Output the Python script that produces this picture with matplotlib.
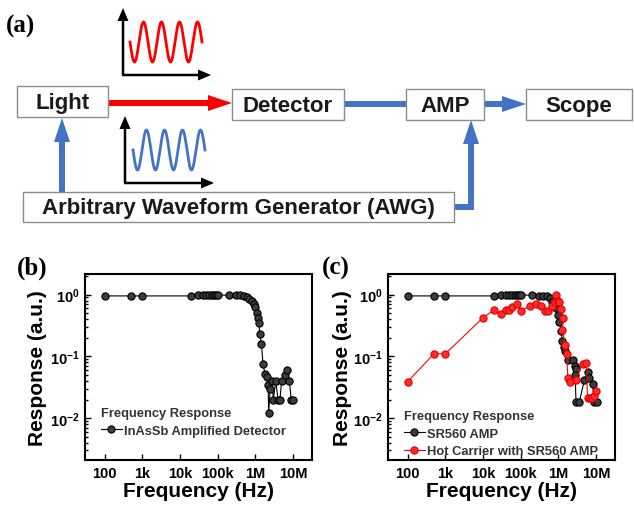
import matplotlib
matplotlib.use("Agg")
import matplotlib.pyplot as plt
import numpy as np
from matplotlib.patches import Rectangle, FancyArrow
from matplotlib.ticker import FixedLocator, FixedFormatter, LogLocator, NullFormatter

plt.rcParams['font.family'] = ['Liberation Sans', 'DejaVu Sans']
plt.rcParams['font.weight'] = 'bold'
plt.rcParams['mathtext.fontset'] = 'custom'
plt.rcParams['mathtext.rm'] = 'Liberation Sans:bold'
plt.rcParams['mathtext.bf'] = 'Liberation Sans:bold'

# ---- data ----
b_freq = [100, 500, 1e3, 2e4, 3e4, 4e4, 5e4, 6e4, 7e4, 8e4, 9e4, 1e5, 2e5, 3e5, 4e5,
          5e5, 6e5, 7e5, 8e5, 9e5, 1e6, 1.1e6, 1.2e6, 1.25e6, 1.3e6, 1.45e6, 1.6e6,
          1.8e6, 2.0e6, 2.2e6, 2.25e6, 2.5e6, 2.8e6, 3.0e6, 3.5e6, 4e6, 4.5e6, 5e6,
          6e6, 7e6, 8e6, 9e6, 1e7]
b_resp = [0.95, 0.95, 0.95, 0.95, 0.97, 0.98, 0.99, 0.99, 1.0, 1.0, 1.0, 0.99, 0.97, 0.99, 0.98,
          0.95, 0.90, 0.85, 0.78, 0.71, 0.62, 0.50, 0.42, 0.35, 0.23, 0.16, 0.076,
          0.052, 0.047, 0.034, 0.012, 0.03, 0.04, 0.02, 0.04, 0.02, 0.02, 0.04,
          0.05, 0.06, 0.04, 0.02, 0.02]

c_freq_k = [100, 500, 1e3, 2e4, 3e4, 4e4, 5e4, 6e4, 7e4, 8e4, 9e4, 1e5, 2e5, 3e5, 4e5,
            5e5, 6e5, 7e5, 8.5e5, 1e6, 1.07e6, 1.2e6, 1.26e6, 1.38e6, 1.55e6, 1.78e6,
            2.4e6, 2.7e6, 2.9e6, 2.8e6, 2.95e6, 3.6e6, 4.9e6, 6e6, 6.6e6, 8.1e6, 9.1e6, 1.05e7]
c_resp_k = [0.95, 0.95, 0.95, 0.95, 0.98, 0.99, 1.0, 1.0, 1.0, 1.0, 1.0, 0.99, 0.97, 0.96, 0.95,
            0.93, 0.88, 0.75, 0.6, 0.46, 0.36, 0.26, 0.18, 0.14, 0.12, 0.086,
            0.086, 0.07, 0.063, 0.05, 0.018, 0.018, 0.041, 0.056, 0.044, 0.036, 0.018, 0.018]

c_freq_r = [100, 500, 1e3, 1e4, 2e4, 3e4, 4e4, 5e4, 6e4, 8e4, 1e5, 1.8e5, 2.6e5, 3.5e5,
            4.4e5, 5.3e5, 6.6e5, 8e5, 8.9e5, 9.8e5, 1.05e6, 1.2e6, 1.32e6, 1.27e6, 1.55e6,
            1.65e6, 1.8e6, 2e6, 2.9e6, 4.4e6, 5.5e6, 6e6, 7e6, 8e6, 9e6, 1e7]
c_resp_r = [0.039, 0.11, 0.11, 0.42, 0.57, 0.48, 0.57, 0.57, 0.63, 0.71, 0.54, 0.66, 0.71, 0.66,
            0.55, 0.55, 0.66, 0.75, 1.0, 0.8, 0.75, 0.58, 0.41, 0.27, 0.15,
            0.11, 0.044, 0.039, 0.042, 0.076, 0.078, 0.021, 0.021, 0.021, 0.023, 0.027]

x_ticks = [100, 1e3, 1e4, 1e5, 1e6, 1e7]
x_labels = ['100', '1k', '10k', '100k', '1M', '10M']
y_ticks = [1e-2, 1e-1, 1]
y_labels = [r'$\mathbf{10^{-2}}$', r'$\mathbf{10^{-1}}$', r'$\mathbf{10^{0}}$']

W, H = 634, 510
fig = plt.figure(figsize=(W / 100, H / 100), dpi=100)

# ---- panel (a): block diagram in pixel coordinates ----
ax0 = fig.add_axes([0, 0, 1, 1])
ax0.set_xlim(0, W)
ax0.set_ylim(H, 0)
ax0.axis('off')

blue = '#4472C4'
red = '#FF0000'
box_style = dict(facecolor='white', edgecolor='#8c8c8c', lw=1.0, zorder=3)
boxes = [('Light', 17, 87, 91, 31), ('Detector', 232, 90, 112, 31),
         ('AMP', 406, 90, 78, 31), ('Scope', 526, 90, 106, 31),
         ('Arbitrary Waveform Generator (AWG)', 23, 193, 431, 30)]
for name, x, y, w, h in boxes:
    ax0.add_patch(Rectangle((x, y), w, h, **box_style))
    ax0.text(x + w / 2, y + h / 2 + 1, name, ha='center', va='center',
             fontsize=16, fontweight='bold', color='#1a1a1a', zorder=4)

# red arrow Light -> Detector
ax0.add_patch(FancyArrow(108, 104, 124, 0, width=6, head_width=16, head_length=24,
                         length_includes_head=True, color=red, lw=0, zorder=2))
# blue line Detector -> AMP
ax0.plot([344, 406], [105, 105], color=blue, lw=4.3, solid_capstyle='butt', zorder=2)
# blue arrow AMP -> Scope
ax0.add_patch(FancyArrow(484, 105, 42, 0, width=6, head_width=16, head_length=24,
                         length_includes_head=True, color=blue, lw=0, zorder=2))
# blue arrow AWG -> Light
ax0.add_patch(FancyArrow(62, 193, 0, -74, width=6, head_width=16, head_length=24,
                         length_includes_head=True, color=blue, lw=0, zorder=2))
# blue elbow AWG -> AMP
ax0.plot([454, 471, 471], [208, 208, 140], color=blue, lw=4.3,
         solid_capstyle='butt', solid_joinstyle='miter', zorder=2)
ax0.add_patch(FancyArrow(471, 145, 0, -24, width=6, head_width=16, head_length=24,
                         length_includes_head=True, color=blue, lw=0, zorder=2))


def sine_inset(x0, y0, x1, ytop, sx0, sx1, yc, amp, col):
    ax0.add_patch(FancyArrow(x0, y0, 0, ytop - y0, width=2.5, head_width=11, head_length=13,
                             length_includes_head=True, color='black', lw=0, zorder=2))
    ax0.add_patch(FancyArrow(x0 - 1, y0, x1 - x0 + 1, 0, width=2.5, head_width=11, head_length=13,
                             length_includes_head=True, color='black', lw=0, zorder=2))
    s = np.linspace(0, 1, 400)
    ax0.plot(sx0 + (sx1 - sx0) * s, yc + amp * np.sin(2 * np.pi * 4 * s), color=col, lw=2.0)


sine_inset(123, 76, 211, 9, 130, 202, 43, 20, red)
sine_inset(125, 184, 214, 117, 133, 205, 151, 20, '#4472C4')

ax0.text(6, 26, '(a)', fontsize=18, fontweight='bold', family='Liberation Serif',
         ha='left', va='center')
ax0.text(17, 268, '(b)', fontsize=18, fontweight='bold', family='Liberation Serif',
         ha='left', va='center')
ax0.text(322, 268, '(c)', fontsize=18, fontweight='bold', family='Liberation Serif',
         ha='left', va='center')


# ---- panels (b), (c) ----
def setup(ax, ylab_x):
    ax.set_xscale('log')
    ax.set_yscale('log')
    ax.set_xlim(30, 3.2e7)
    ax.set_ylim(0.0021, 2.15)
    ax.xaxis.set_major_locator(FixedLocator(x_ticks))
    ax.xaxis.set_major_formatter(FixedFormatter(x_labels))
    ax.yaxis.set_major_locator(FixedLocator(y_ticks))
    ax.yaxis.set_major_formatter(FixedFormatter(y_labels))
    ax.xaxis.set_minor_locator(LogLocator(base=10, subs=np.arange(2, 10)))
    ax.yaxis.set_minor_locator(LogLocator(base=10, subs=np.arange(2, 10)))
    ax.xaxis.set_minor_formatter(NullFormatter())
    ax.yaxis.set_minor_formatter(NullFormatter())
    ax.tick_params(which='both', direction='in', top=False, right=False, width=1.0)
    ax.tick_params(which='major', length=4, labelsize=10.5, pad=4)
    ax.tick_params(which='minor', length=2)
    for sp in ax.spines.values():
        sp.set_linewidth(1.5)
    ax.set_xlabel('Frequency (Hz)', fontsize=15, fontweight='bold')
    ax.set_ylabel('Response (a.u.)', fontsize=15, fontweight='bold')
    ax.xaxis.set_label_coords(0.5, -0.112)
    ax.yaxis.set_label_coords(ylab_x, 0.5)


def legend(ax, y):
    leg = ax.legend(loc='lower left', bbox_to_anchor=(0.07, y), frameon=False,
                    title='Frequency Response', alignment='left', fontsize=9.3,
                    title_fontproperties={'size': 9.3, 'weight': 'bold'},
                    handlelength=1.6, handletextpad=0.2, borderpad=0, borderaxespad=0,
                    labelspacing=0.42)
    for t in leg.get_texts():
        t.set_color('#333333')
    leg.get_title().set_color('#333333')


mk = dict(marker='o', markersize=5.2, markeredgewidth=0.8, lw=0.8)

axb = fig.add_axes([85 / W, (H - 461) / H, 227 / W, 186 / H])
setup(axb, -0.167)
axb.plot(b_freq, b_resp, color='black', markerfacecolor='#3c3c3c', markeredgecolor='black',
         label='InAsSb Amplified Detector', **mk)
legend(axb, 0.125)

axc = fig.add_axes([388 / W, (H - 461) / H, 227 / W, 186 / H])
setup(axc, -0.159)
axc.plot(c_freq_k, c_resp_k, color='black', markerfacecolor='#3c3c3c', markeredgecolor='black',
         label='SR560 AMP', **mk)
axc.plot(c_freq_r, c_resp_r, color=red, markerfacecolor='#ff2a2a', markeredgecolor='#e00000',
         label='Hot Carrier with SR560 AMP', **mk)
legend(axc, 0.014)

fig.savefig('out.png', dpi=100)
